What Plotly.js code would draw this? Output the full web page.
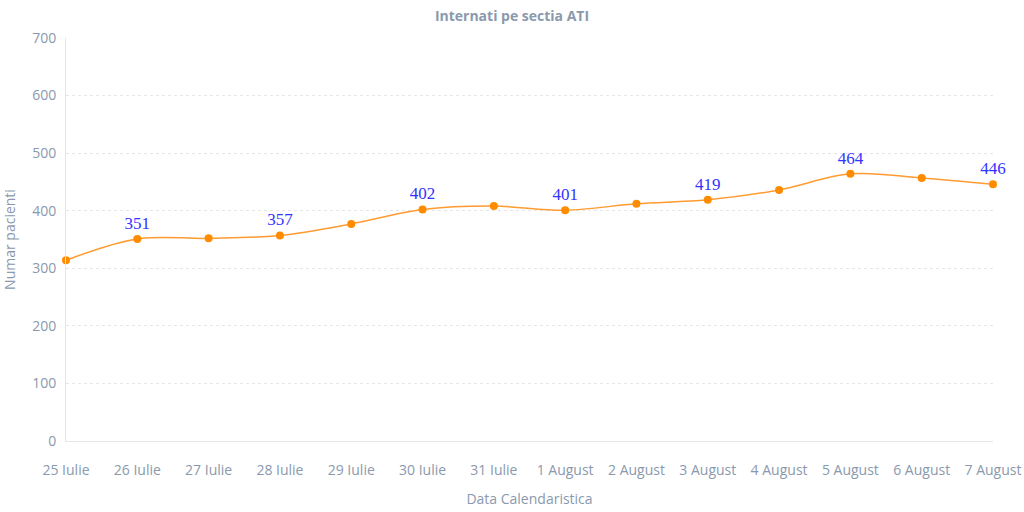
<!DOCTYPE html>
<html><head><meta charset="utf-8">
<script src="https://cdn.plot.ly/plotly-3.0.1.min.js"></script>
<style>html,body{margin:0;padding:0;background:#fff}#c{width:1024px;height:512px}</style>
</head><body><div id="c"></div>
<script>
const categories = ["25 Iulie","26 Iulie","27 Iulie","28 Iulie","29 Iulie","30 Iulie","31 Iulie","1 August","2 August","3 August","4 August","5 August","6 August","7 August"];
const values = [314,351,352,357,377,402,408,401,412,419,436,464,457,446];
const showLabel = [false,true,false,true,false,true,false,true,false,true,false,true,false,true];
const labels = values.map((v,i)=> showLabel[i] ? String(v) : "");
const grey = "#8a99ad";
Plotly.newPlot("c", [{
  x: categories, y: values, type: "scatter", mode: "lines+markers+text",
  text: labels, textposition: "top center",
  textfont: {family: "Liberation Serif, Times New Roman, serif", size: 17, color: "#3333ff"},
  line: {shape: "spline", color: "#ff9b30", width: 1.5, smoothing: 1},
  marker: {color: "#ff8c00", size: 8},
  cliponaxis: false, hoverinfo: "x+y"
}], {
  width: 1024, height: 512,
  margin: {l: 66, r: 31, t: 38, b: 71},
  paper_bgcolor: "#fff", plot_bgcolor: "#fff",
  showlegend: false,
  font: {family: "Open Sans, sans-serif", color: grey, size: 14},
  title: {text: "<b>Internati pe sectia ATI</b>", x: 0.5, xanchor: "center", y: 0.968, yanchor: "middle",
          font: {family: "Open Sans, sans-serif", size: 14, color: grey}},
  xaxis: {type: "category", range: [0, 13], showgrid: false, zeroline: false,
          showline: true, linecolor: "#e3e6ea", linewidth: 1, ticks: "",
          tickfont: {size: 14, color: grey}, ticklabelstandoff: 16, automargin: false,
          title: {text: "Data Calendaristica", font: {size: 14, color: grey}, standoff: 16}},
  yaxis: {range: [0, 700], dtick: 100, showgrid: true, gridcolor: "#e6e6e6", griddash: "dot",
          zeroline: false, showline: true, linecolor: "#e3e6ea", linewidth: 1,
          tickfont: {size: 14, color: grey}, ticks: "", ticklabelstandoff: 6, automargin: false,
          title: {text: "Numar pacienti", font: {size: 14, color: grey}, standoff: 14}}
}, {displayModeBar: false, staticPlot: true});
</script></body></html>
